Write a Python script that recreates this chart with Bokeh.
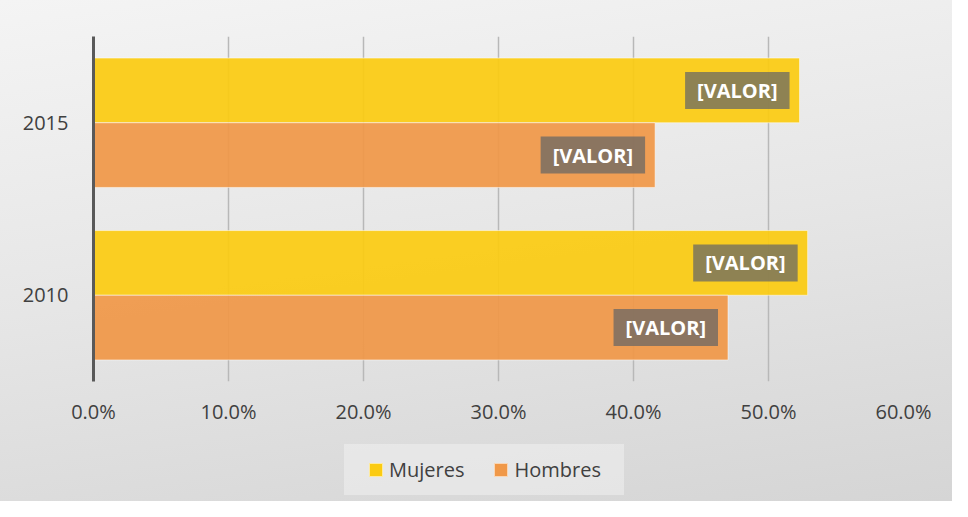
from bokeh.plotting import figure
from bokeh.layouts import column
from bokeh.models import (ColumnDataSource, FactorRange, Range1d, NumeralTickFormatter,
                          FixedTicker, Div)
from bokeh.transform import dodge
from bokeh.embed import file_html
from bokeh.resources import INLINE
from bokeh.core.properties import value

years = ["2010", "2015"]
mujeres = [0.529, 0.523]
hombres = [0.470, 0.416]
series_names = ["Mujeres", "Hombres"]
label_text = ["[VALOR]", "[VALOR]"]
x_ticks = [0.0, 0.1, 0.2, 0.3, 0.4, 0.5, 0.6]

FONT = "Open Sans"
TXT = "#404040"
C_M = "#FBCB12"
C_H = "#F09848"
series_colors = [C_M, C_H]

src = ColumnDataSource(dict(year=years, mujeres=mujeres, hombres=hombres, lbl=label_text))

p = figure(width=952, height=436, output_backend="svg", toolbar_location=None,
           y_range=FactorRange(factors=years), x_range=Range1d(0, 0.6),
           min_border_left=93, min_border_right=49, min_border_top=36, min_border_bottom=55)
p.background_fill_alpha = 0
p.border_fill_alpha = 0
p.outline_line_color = None

p.xgrid.grid_line_color = "#b8b8b8"
p.xgrid.grid_line_width = 1.5
p.ygrid.grid_line_color = None

bar_style = dict(height=0.375, left=0, source=src, fill_alpha=0.93,
                 line_color="white", line_alpha=0.5, line_width=1)
r_m = p.hbar(y=dodge("year", 0.1875, range=p.y_range), right="mujeres", fill_color=C_M, **bar_style)
r_h = p.hbar(y=dodge("year", -0.1875, range=p.y_range), right="hombres", fill_color=C_H, **bar_style)

for col, off in (("mujeres", 0.1875), ("hombres", -0.1875)):
    p.text(x=col, y=dodge("year", off, range=p.y_range), text="lbl", source=src,
           text_align="right", text_baseline="middle", x_offset=-10,
           text_font=value(FONT), text_font_style="bold", text_font_size="20px",
           text_color="white", padding=(12, 5),
           background_fill_color="#666666", background_fill_alpha=0.73)

p.xaxis.ticker = FixedTicker(ticks=x_ticks)
p.xaxis.formatter = NumeralTickFormatter(format="0.0%")
p.xaxis.axis_line_color = None
p.xaxis.major_tick_line_color = None
p.xaxis.minor_tick_line_color = None
p.xaxis.major_label_text_font = FONT
p.xaxis.major_label_text_font_size = "20px"
p.xaxis.major_label_text_color = TXT
p.xaxis.major_label_standoff = 10

p.yaxis.axis_line_color = "#595959"
p.yaxis.axis_line_width = 3
p.yaxis.major_tick_line_color = None
p.yaxis.minor_tick_line_color = None
p.yaxis.major_label_text_font = FONT
p.yaxis.major_label_text_font_size = "20px"
p.yaxis.major_label_text_color = TXT
p.yaxis.major_label_standoff = 19

# legend strip (HTML) below the chart
items_html = "".join(
    f'<span style="display:inline-flex;align-items:center;margin-right:{30 if i == 0 else 0}px;">'
    f'<span style="display:inline-block;width:14px;height:14px;box-sizing:border-box;'
    f'background:{c};border:1px solid rgba(255,255,255,0.6);margin-right:6px;"></span>'
    f'<span>{name}</span></span>'
    for i, (name, c) in enumerate(zip(series_names, series_colors)))
legend_html = (
    f'<div style="margin:8px 0 0 344px;width:280px;height:51px;box-sizing:border-box;'
    f'padding-left:25px;display:flex;align-items:center;background:rgba(240,240,240,0.55);'
    f'font-family:\'{FONT}\';font-size:20px;color:{TXT};line-height:1;">{items_html}</div>')
leg = Div(text=legend_html, width=952, height=65, margin=0)

layout = column(p, leg, spacing=0)
layout.styles = {"background": "linear-gradient(172deg, #f4f4f4 0%, #e6e6e6 50%, #d5d5d5 100%)"}

open("out.html", "w").write(file_html(layout, INLINE))
